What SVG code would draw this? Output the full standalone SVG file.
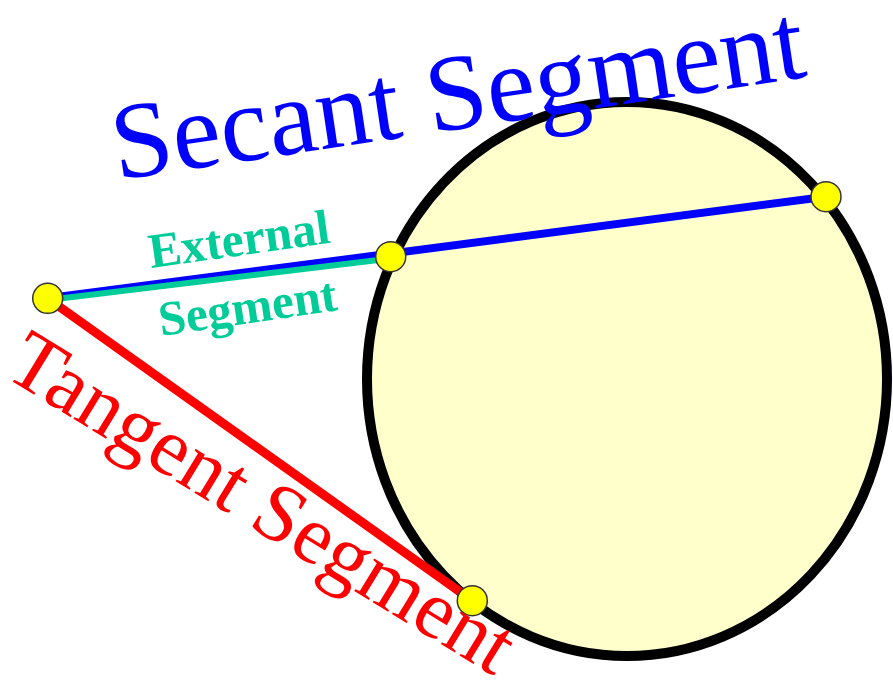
<svg xmlns="http://www.w3.org/2000/svg" width="893" height="690" viewBox="0 0 893 690">
<style>
.pt{fill:#FFFF00;stroke:#333333;stroke-width:1.5}
.serif{font-family:'Liberation Serif','Times New Roman',serif}
.lab{font-family:'Liberation Serif','Times New Roman',serif;font-weight:bold;font-size:49px;fill:#00CC99}
</style>
<rect width="893" height="690" fill="#FFFFFF"/>
<g id="circle">
<ellipse cx="627" cy="379" rx="260" ry="277" fill="#FFFFCC" stroke="#000000" stroke-width="10"/>
</g>
<g id="connectors">
<line x1="47.7" y1="298.3" x2="826" y2="196.7" stroke="#0000FF" stroke-width="8"/>
<line x1="47.7" y1="300" x2="390.7" y2="258.4" stroke="#00CC99" stroke-width="6"/>
<line x1="47.7" y1="298.3" x2="472.3" y2="600.7" stroke="#FF0000" stroke-width="9"/>
</g>
<g id="P"><circle class="pt" cx="47.7" cy="298.3" r="15"/></g>
<g id="A"><circle class="pt" cx="390.7" cy="256.7" r="15"/></g>
<g id="B"><circle class="pt" cx="826" cy="196.7" r="15"/></g>
<g id="T"><circle class="pt" cx="472.3" cy="600.7" r="15"/></g>
<g id="secant-label">
<text class="serif" x="0" y="0" font-size="109" fill="#0000FF" transform="translate(117,180) rotate(-8.5)">Secant Segment</text>
</g>
<g id="tangent-label">
<text class="serif" x="0" y="0" font-size="83" fill="#FF0000" transform="translate(2,375) rotate(31.5)">Tangent Segment</text>
</g>
<g id="external-label">
<text class="lab" x="0" y="0" transform="translate(151,268) rotate(-8)">External</text>
<text class="lab" x="0" y="0" transform="translate(161,336) rotate(-8.3)">Segment</text>
</g>
</svg>
